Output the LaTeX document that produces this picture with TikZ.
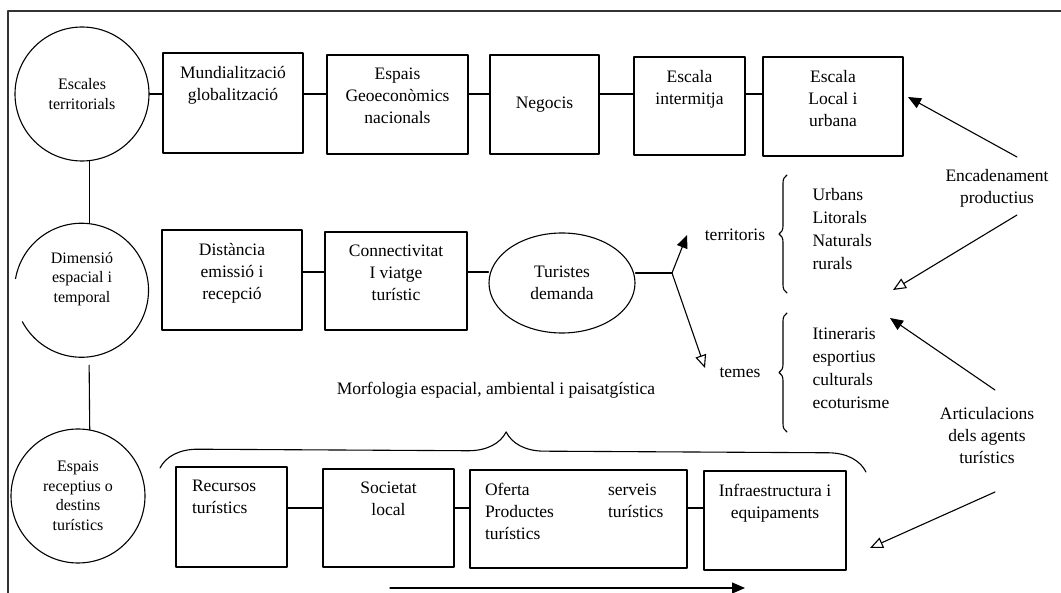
\documentclass[tikz,border=0pt]{standalone}
\usepackage{fontspec}
\setmainfont{Liberation Serif}
\usetikzlibrary{arrows.meta,decorations.pathreplacing,shapes.geometric}
\begin{document}
\begin{tikzpicture}[x=1pt,y=-1pt,line join=round,line cap=round,line width=1.1pt,
  font=\fontsize{17.5}{22}\selectfont,
  >={Triangle[length=13pt,width=11pt]},
  box/.style 2 args={draw,inner sep=0pt,minimum width=#1,minimum height=#2},
  btxt/.style={anchor=north,align=center,inner sep=0pt,yshift=-13pt},
  ring/.style={circle,draw,inner sep=0pt,minimum size=134pt,align=center,font=\fontsize{16}{19.5}\selectfont},
  ctxt/.style={align=center,inner sep=0pt,font=\fontsize{16}{19.5}\selectfont},
  hol/.style={-{Triangle[open,length=13pt,width=11pt]}},
  brc/.style={decorate,decoration={brace,amplitude=#1}},
  ]
\useasboundingbox (0,0) rectangle (1061,593);
\draw[line width=1.3pt,black!80] (8,593) -- (8,11) -- (1061,11);
% les tres escales (cercles)
\node[ring] (c1) at (82,94) {Escales\\territorials};
\node[ring,draw=none] (c2) at (82,290) [label={[ctxt,yshift=11pt]center:Dimensió\\espacial i\\temporal}] {};
\begin{scope}[y=1pt]
\draw (c2.208) arc[start angle=208,end angle=530,radius=67pt];
\end{scope}
\node[ring] (c3) at (78,496) {Espais\\receptius o\\destins\\turístics};
\draw (c1.-84) -- (c2.84);
\draw[shorten <=8pt] (c2.-84) -- (c3.80);
% fila superior
\node[box={140pt}{100pt},label={[btxt]north:Mundialització\\globalització}] (b1) at (233,103) {};
\node[box={141pt}{99pt},label={[btxt]north:Espais\\Geoeconòmics\\nacionals}] (b2) at (397.5,104.5) {};
\node[box={109pt}{99pt}] (b3) at (544.5,104.5) {Negocis};
\node[box={111pt}{98pt},label={[btxt]north:Escala\\intermitja}] (b4) at (689.5,106) {};
\node[box={140pt}{99pt},label={[btxt]north:Escala\\Local i\\urbana}] (b5) at (833,106.5) {};
\draw (c1.east) -- (c1.east -| b1.west);
\foreach \a/\b in {b1/b2,b2/b3,b3/b4,b4/b5}\draw (\a.east |- c1) -- (\b.west |- c1);
% fila del mig
\path (0,272) coordinate (r2)
  (672,273) coordinate (fk)
  (687,235) coordinate (tT)
  (705,368) coordinate (tM);
\node[box={140pt}{100pt},label={[btxt]north:Distància\\emissió i\\recepció}] (d1) at (232,280) {};
\node[box={142pt}{98pt},label={[btxt]north:Connectivitat\\I viatge\\turístic}] (d2) at (396,281) {};
\node[ellipse,draw,inner sep=0pt,minimum width=146pt,minimum height=100pt,align=center] (tur) at (562,283) {Turistes\\demanda};
\draw (d1.east |- r2) -- (d2.west |- r2);
\draw (d2.east |- r2) -- (tur.west |- r2);
\draw (tur.east |- fk) -- (fk);
\draw[->] (fk) -- (tT);
\draw[hol] (fk) -- (tM);
\node (ter) at (735,235) {territoris};
\node (tem) at (740,373) {temes};
\draw[brc=8pt] (787,293) -- (787,175);
\draw[brc=8pt] (787,432) -- (787,313);
\node[anchor=west,align=left,inner sep=0pt,font=\fontsize{17.5}{23}\selectfont] (lt) at (812,229.5) {Urbans\\Litorals\\Naturals\\rurals};
\node[anchor=west,align=left,inner sep=0pt,font=\fontsize{17.5}{23}\selectfont] (lm) at (812,368) {Itineraris\\esportius\\culturals\\ecoturisme};
% agents
\node[align=center] (enc) at (997,188) {Encadenament\\productius};
\node[align=center] (art) at (987,436) {Articulacions\\dels agents\\turístics};
\path (1017,157) coordinate (e1) (908,97) coordinate (e1t)
  (1017,215) coordinate (e2) (893,290) coordinate (e2t)
  (995,390) coordinate (a1) (890,318) coordinate (a1t)
  (995,492) coordinate (a2) (870,548) coordinate (a2t);
\draw[->] (e1) -- (e1t);
\draw[hol] (e2) -- (e2t);
\draw[->] (a1) -- (a1t);
\draw[hol] (a2) -- (a2t);
% fila inferior
\node (mor) at (496,390) {Morfologia espacial, ambiental i paisatgística};
\draw[brc=38pt,decoration={aspect=0.49}] (160,468) -- (866,472);
\node[box={111pt}{100pt},label={[btxt,anchor=north west,align=left,xshift=16pt]north west:Recursos\\turístics}] (p1) at (231.5,517) {};
\node[box={131pt}{98pt},label={[btxt]north:Societat\\local}] (p2) at (388.5,518) {};
\node[box={217pt}{98pt},label={[anchor=north west,inner sep=0pt,xshift=15pt,yshift=-10pt]north west:{\begin{tabular}{@{}l@{\hspace{54pt}}l@{}}Oferta&serveis\\Productes&turístics\\turístics&\end{tabular}}}] (p3) at (578.5,519) {};
\node[box={142pt}{99pt},label={[btxt]north:Infraestructura i\\equipaments}] (p4) at (775,520.5) {};
\foreach \a/\b in {p1/p2,p2/p3,p3/p4}\draw (\a.east |- 0,508) -- (\b.west |- 0,508);
\path (390,588) coordinate (fl) (745,588) coordinate (fr);
\draw[->] (fl) -- (fr);
\end{tikzpicture}
\end{document}
